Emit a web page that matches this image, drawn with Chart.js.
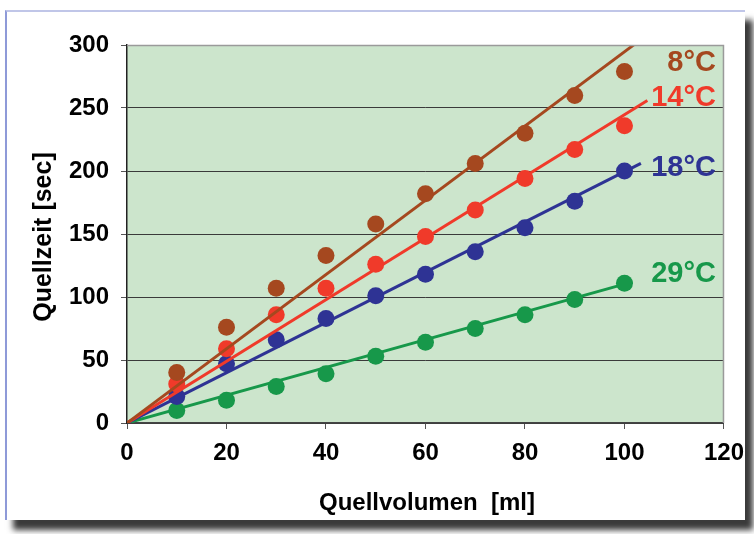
<!DOCTYPE html>
<html>
<head>
<meta charset="utf-8">
<script src="https://cdn.jsdelivr.net/npm/chart.js@4.4.1/dist/chart.umd.min.js"></script>
<style>
  html, body { margin: 0; padding: 0; background: #fff; }
  #wrap { position: relative; width: 754px; height: 534px; overflow: hidden; }
  #frame {
    position: absolute; left: 5px; top: 10px; width: 738px; height: 508px;
    border-left: 2px solid #8e9ad8; border-top: 2px solid #c0c6e8;
    background: #fff;
    box-shadow: 8px 10px 6px #3a3a3a;
  }
  canvas { position: absolute; left: 0; top: 0; }
</style>
</head>
<body>
<div id="wrap">
  <div id="frame"></div>
  <canvas id="chart" width="754" height="534"></canvas>
</div>
<script>
// Measured data (Quellvolumen in ml, Quellzeit in sec)
const volumes = [10, 20, 30, 40, 50, 60, 70, 80, 90, 100];
const temps = ['8°C', '14°C', '18°C', '29°C'];
const time8 = [40, 76, 107, 133, 158, 182, 206, 230, 260, 279];
const time14 = [31, 59, 86, 107, 126, 148, 169, 194, 217, 236];
const time18 = [21, 47, 66, 83, 101, 118, 136, 155, 176, 200];
const time29 = [10, 18, 29, 39, 53, 64, 75, 86, 98, 111];

// Trend lines through the origin: end point [x, y]
const trend8 = [[0, 0], [102, 300.5]];
const trend14 = [[0, 0], [104.6, 256]];
const trend18 = [[0, 0], [103.3, 206]];
const trend29 = [[0, 0], [101.6, 112]];

// where the temperature label sits (data units, right aligned)
const labelX = 118;
const labelY = [286, 258, 202, 118];

const xTicks = [0, 20, 40, 60, 80, 100, 120];
const yTicks = [0, 50, 100, 150, 200, 250, 300];

const colors = ['#a5481f', '#f03a2a', '#2e3394', '#17984a'];

const toPts = arr => arr.map((v, i) => ({ x: volumes[i], y: v }));
const toLine = arr => arr.map(p => ({ x: p[0], y: p[1] }));

const series = [time8, time14, time18, time29];
const trends = [trend8, trend14, trend18, trend29];

const datasets = [];
series.forEach((s, i) => {
    datasets.push({
        label: temps[i],
        data: toPts(s),
        showLine: false,
        pointRadius: 8.5,
        pointHoverRadius: 8.5,
        pointBackgroundColor: colors[i],
        pointBorderWidth: 0
    });
    datasets.push({
        label: temps[i] + ' trend',
        data: toLine(trends[i]),
        showLine: true,
        borderColor: colors[i],
        borderWidth: 3,
        pointRadius: 0
    });
});

const FONT = '"Liberation Sans", Arial, sans-serif';

// green plot background
const plotBg = {
    id: 'plotBg',
    beforeDraw(chart) {
        const a = chart.chartArea;
        const ctx = chart.ctx;
        ctx.save();
        ctx.fillStyle = '#cce5cc';
        ctx.fillRect(a.left, a.top, a.right - a.left, a.bottom - a.top);
        ctx.restore();
    },
    afterDatasetsDraw(chart) {
        const a = chart.chartArea;
        const ctx = chart.ctx;
        ctx.save();
        ctx.strokeStyle = '#9a9a9a';
        ctx.lineWidth = 1.5;
        ctx.beginPath();
        ctx.moveTo(a.left, a.top + 0.5);
        ctx.lineTo(a.right - 0.5, a.top + 0.5);
        ctx.lineTo(a.right - 0.5, a.bottom);
        ctx.stroke();
        ctx.restore();
    }
};

// temperature labels and axis titles
const textLabels = {
    id: 'textLabels',
    afterDraw(chart) {
        const ctx = chart.ctx;
        const xs = chart.scales.x, ys = chart.scales.y;
        ctx.save();
        ctx.font = 'bold 29px ' + FONT;
        ctx.textAlign = 'right';
        ctx.textBaseline = 'middle';
        temps.forEach((t, i) => {
            ctx.fillStyle = colors[i];
            ctx.fillText(t, xs.getPixelForValue(labelX) + 2, ys.getPixelForValue(labelY[i]));
        });
        ctx.fillStyle = '#000';
        ctx.font = 'bold 24px ' + FONT;
        ctx.textAlign = 'center';
        ctx.fillText('Quellvolumen  [ml]', 427, 503);
        ctx.font = 'bold 25px ' + FONT;
        ctx.translate(44, 237);
        ctx.rotate(-Math.PI / 2);
        ctx.fillText('Quellzeit [sec]', 0, 0);
        ctx.restore();
    }
};

new Chart(document.getElementById('chart').getContext('2d'), {
    type: 'scatter',
    data: { datasets: datasets },
    options: {
        responsive: false,
        animation: false,
        layout: { padding: { left: 0, top: 45, right: 27, bottom: 0 } },
        plugins: { legend: { display: false }, tooltip: { enabled: false } },
        scales: {
            x: {
                type: 'linear',
                min: 0, max: 120,
                afterFit(scale) { scale.height = 111; },
                afterBuildTicks(scale) { scale.ticks = xTicks.map(v => ({ value: v })); },
                grid: { display: true, drawOnChartArea: false, color: '#555', tickLength: 6 },
                border: { color: '#444', width: 1.5 },
                ticks: { color: '#000', padding: 10, font: { family: FONT, size: 24, weight: 'bold' } }
            },
            y: {
                type: 'linear',
                min: 0, max: 300,
                afterFit(scale) { scale.width = 127; },
                afterBuildTicks(scale) { scale.ticks = yTicks.map(v => ({ value: v })); },
                grid: { color: ctx => ctx.tick && ctx.tick.value === 300 ? 'rgba(0,0,0,0)' : '#3a3a3a', lineWidth: 1, tickLength: 6, tickColor: '#555' },
                border: { color: '#222', width: 1.5 },
                ticks: { color: '#000', padding: 12, font: { family: FONT, size: 24, weight: 'bold' } }
            }
        }
    },
    plugins: [plotBg, textLabels]
});
</script>
</body>
</html>
